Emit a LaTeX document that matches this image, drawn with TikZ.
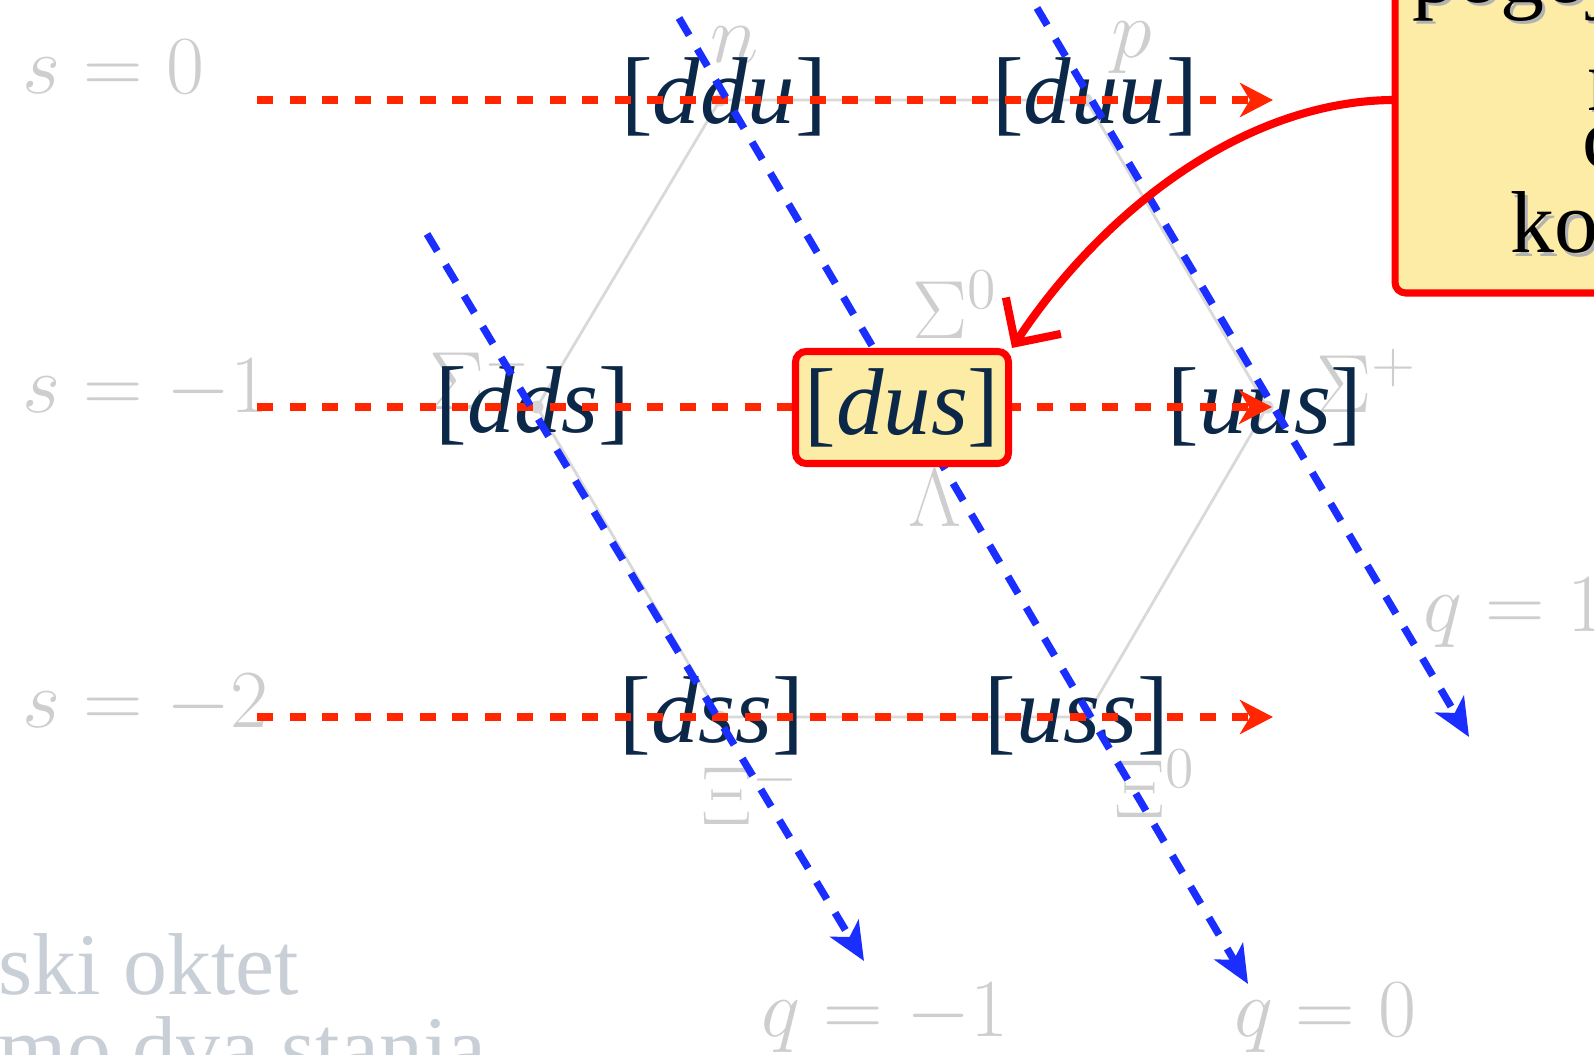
\RequirePackage{fix-cm}
\documentclass[tikz,border=0pt]{standalone}
\usepackage{fontspec}
\setmainfont{Liberation Serif}
\usetikzlibrary{arrows.meta,positioning,calc}
\definecolor{quarknavy}{RGB}{12,40,72}
\definecolor{stripred}{RGB}{255,38,0}
\definecolor{diagblue}{RGB}{26,46,255}
\definecolor{notered}{RGB}{255,0,0}
\definecolor{noteyellow}{RGB}{253,236,166}
\definecolor{fadegray}{RGB}{206,206,206}
\definecolor{fadeslate}{RGB}{200,207,215}

\begin{document}
\begin{tikzpicture}[
  quark/.style={font=\fontsize{27}{31}\selectfont,text=quarknavy,inner sep=0pt},
  faded/.style={font=\fontsize{23.5}{28}\selectfont,text=fadegray,inner sep=0pt},
  site/.style={circle,fill=black!16,inner sep=0pt,minimum size=1.3mm},
  hexedge/.style={draw=black!15,line width=0.8pt},
  strange/.style={draw=stripred,line width=2.2pt,dash pattern=on 0.16cm off 0.165cm,
    -{Stealth[length=3.3mm,width=3.4mm,inset=1mm]}},
  charge/.style={draw=diagblue,line width=2.1pt,dash pattern=on 0.2cm off 0.16cm,
    -{Stealth[length=3.8mm,width=3.3mm,inset=1mm]}},
  hilite/.style={draw=notered,fill=noteyellow,line width=2pt,rounded corners=3pt},
  callout/.style={draw=notered,line width=2.3pt,line cap=round,
    -{Straight Barb[length=3.3mm,width=6.6mm]}},
  notetext/.style={font=\fontsize{25}{30}\selectfont,inner sep=0pt,anchor=base west},
  title/.style={font=\fontsize{25}{30}\selectfont,text=fadeslate,inner sep=0pt,anchor=base west}]

  \useasboundingbox (0,0) rectangle (15.94,-10.54);
  \clip (0,0) rectangle (15.94,-10.54);

  \node[title] (tl1) at (-0.02,-9.94) {ski oktet};
  \node[title] (tl2) at (-0.02,-10.77) {mo dva stanja};

  \coordinate (n) at (7.20,-1.00);
  \coordinate (p) at (10.86,-1.00);
  \coordinate (Sm) at (5.37,-4.07);
  \coordinate (Sp) at (12.67,-4.07);
  \coordinate (Xm) at (7.20,-7.17);
  \coordinate (X0) at (10.86,-7.17);
  \draw[hexedge] (n) -- (p) -- (Sp) -- (X0) -- (Xm) -- (Sm) -- cycle;
  \node[site] (dn) at (n) {};
  \node[site] (dp) at (p) {};
  \node[site] (dSm) at (Sm) {};
  \node[site] (dSp) at (Sp) {};
  \node[site] (dXm) at (Xm) {};
  \node[site] (dX0) at (X0) {};

  \node[faded,anchor=base west] (s0) at (0.22,-0.935) {$s=0$};
  \node[faded,anchor=base west] (s1) at (0.22,-4.12) {$s=-1$};
  \node[faded,anchor=base west] (s2) at (0.22,-7.27) {$s=-2$};
  \node[faded] (q1) at (8.85,-10.18) {$q=-1$};
  \node[faded] (q2) at (13.25,-10.18) {$q=0$};
  \node[faded,anchor=west] (q3) at (14.23,-6.13) {$q=1$};
  \node[faded] (ln) at (7.35,-0.45) {$n$};
  \node[faded] (lp) at (11.32,-0.48) {$p$};
  \node[faded] (lSm) at (4.80,-3.78) {$\Sigma^-$};
  \node[faded] (lS0) at (9.55,-3.05) {$\Sigma^0$};
  \node[faded] (lL) at (9.35,-4.98) {$\Lambda$};
  \node[faded] (lSp) at (13.67,-3.81) {$\Sigma^+$};
  \node[faded] (lXm) at (7.50,-7.93) {$\Xi^-$};
  \node[faded] (lX0) at (11.55,-7.84) {$\Xi^0$};

  \node[quark] (ddu) at (7.24,-0.97) {[\textit{ddu}]};
  \node[quark] (duu) at (10.95,-0.97) {[\textit{duu}]};
  \node[quark] (dds) at (5.33,-4.06) {[\textit{dds}]};
  \node[quark] (uus) at (12.65,-4.07) {[\textit{uus}]};
  \node[quark] (dss) at (7.12,-7.16) {[\textit{dss}]};
  \node[quark] (uss) at (10.77,-7.16) {[\textit{uss}]};

  \coordinate (r0a) at (2.57,-1.00);
  \coordinate (r0b) at (12.73,-1.00);
  \coordinate (r1a) at (2.57,-4.07);
  \coordinate (r1b) at (12.72,-4.07);
  \coordinate (r2a) at (2.57,-7.17);
  \coordinate (r2b) at (12.73,-7.17);
  \draw[strange] (r0a) -- (r0b);
  \draw[strange] (r1a) -- (r1b);
  \draw[strange] (r2a) -- (r2b);

  \coordinate (b1a) at (4.27,-2.34);
  \coordinate (b1b) at (8.64,-9.61);
  \coordinate (b2a) at (6.79,-0.18);
  \coordinate (b2b) at (12.48,-9.84);
  \coordinate (b3a) at (10.37,-0.08);
  \coordinate (b3b) at (14.69,-7.37);
  \draw[charge] (b1a) -- (b1b);
  \draw[charge] (b2a) -- (b2b);
  \draw[charge] (b3a) -- (b3b);

  \node[quark,hilite,minimum width=2.13cm,minimum height=1.12cm] (dus)
    at (9.02,-4.075) {[\textit{dus}]};

  \node[hilite,anchor=south west,minimum width=3cm,minimum height=3.5cm] (note)
    at (13.915,-2.965) {};
  \node[notetext,text=black!30] (nl1s) at (14.15,-0.06) {pogoj};
  \node[notetext] (nl1) at (14.12,-0.03) {pogoj};
  \node[notetext,text=black!30] (nl2s) at (15.90,-1.13) {n};
  \node[notetext] (nl2) at (15.87,-1.10) {n};
  \node[notetext,text=black!30] (nl3s) at (15.85,-1.71) {c};
  \node[notetext] (nl3) at (15.82,-1.68) {c};
  \node[notetext,text=black!30] (nl4s) at (15.13,-2.56) {ko};
  \node[notetext] (nl4) at (15.10,-2.53) {ko};

  \coordinate (hook) at (13.915,-1.00);
  \draw[callout] (hook) .. controls (12.40,-1.02) and (11.00,-2.15) .. (dus.north east);

\end{tikzpicture}
\end{document}
